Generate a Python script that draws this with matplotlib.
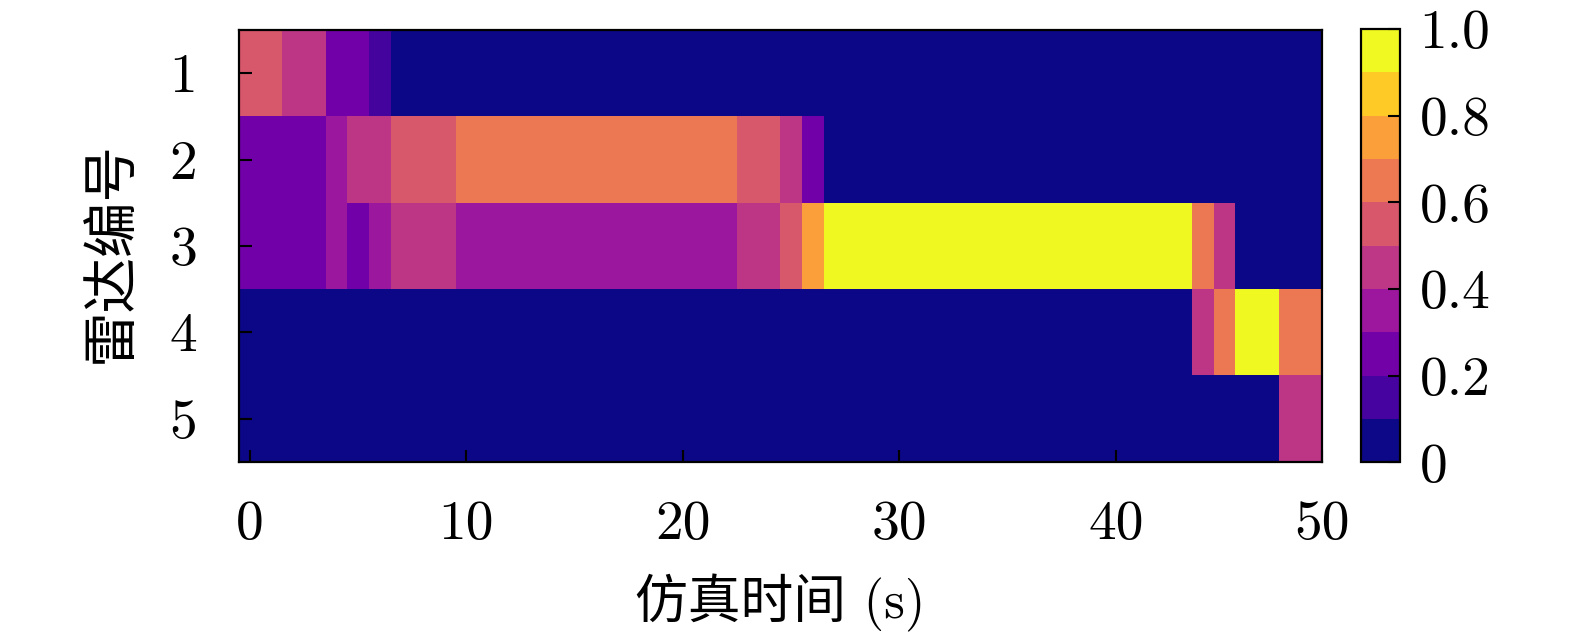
import numpy as np
import matplotlib
matplotlib.use("Agg")
import matplotlib.pyplot as plt
from matplotlib.colors import BoundaryNorm

plt.rcParams['mathtext.fontset'] = 'cm'
plt.rcParams['axes.unicode_minus'] = False

# detection probability of each radar over simulation time (0..49 s)
radar_1 = [0.52]*2 + [0.44]*2 + [0.26]*2 + [0.15] + [0.0]*43
radar_2 = [0.24]*2 + [0.28]*2 + [0.37] + [0.47]*2 + [0.55]*3 + [0.65]*13 \
    + [0.55]*2 + [0.45] + [0.25] + [0.0]*23
radar_3 = [0.24]*2 + [0.28]*2 + [0.37] + [0.27] + [0.38] + [0.43]*3 + [0.35]*13 \
    + [0.45]*2 + [0.55] + [0.75] + [1.0]*17 + [0.61] + [0.41] + [0.0]*4
radar_4 = [0.0]*44 + [0.41] + [0.61] + [1.0]*2 + [0.61]*2
radar_5 = [0.0]*48 + [0.41]*2

radar_labels = ['1', '2', '3', '4', '5']
time_ticks = [0, 10, 20, 30, 40, 50]
cbar_ticks = [0, 0.2, 0.4, 0.6, 0.8, 1.0]
cbar_labels = ['0', '0.2', '0.4', '0.6', '0.8', '1.0']

data = np.array([radar_1, radar_2, radar_3, radar_4, radar_5])
n_rows, n_cols = data.shape

cmap = plt.get_cmap('plasma', 10)
norm = BoundaryNorm(np.linspace(0, 1, 11), cmap.N)

fig = plt.figure(figsize=(15.75, 6.44), dpi=100)
ax = fig.add_axes([239/1575, 1 - 461.7/644, 1082.7/1575, 431.7/644])
cax = fig.add_axes([1361/1575, 1 - 462.3/644, 39/1575, 433.3/644])

im = ax.imshow(data, cmap=cmap, norm=norm, aspect='auto', interpolation='nearest')
ax.set_xlim(-0.5, n_cols - 0.5)
ax.set_ylim(n_rows - 0.5, -0.5)

num_font = 'cmr10'
cjk = ['cmr10', 'Noto Sans CJK SC']

# last tick sits on the right edge like in the original
xt = np.minimum(time_ticks, n_cols - 0.5)
ax.set_xticks(xt)
ax.set_xticklabels([str(t) for t in time_ticks], fontfamily=num_font, fontsize=40)
ax.set_yticks(range(n_rows))
ax.set_yticklabels(radar_labels, fontfamily=num_font, fontsize=40)
ax.tick_params(direction='in', length=9, width=1.5, pad=28)
ax.tick_params(axis='y', pad=30)
for s in ax.spines.values():
    s.set_linewidth(1.6)

ax.set_xlabel('仿真时间 (s)', family=cjk, fontsize=38, va='center')
ax.xaxis.set_label_coords(0.5, (461.7 - 603) / 431.7)
ax.set_ylabel('雷达编号', family=cjk, fontsize=40, va='center')
ax.yaxis.set_label_coords((113 - 239) / 1082.7, 0.486)

cb = fig.colorbar(im, cax=cax, ticks=cbar_ticks)
cb.outline.set_linewidth(1.6)
cax.minorticks_off()
cax.set_yticklabels(cbar_labels, fontfamily=num_font, fontsize=40)
cax.tick_params(direction='in', length=9, width=1.5, pad=14)

fig.savefig('out.png', dpi=100)
